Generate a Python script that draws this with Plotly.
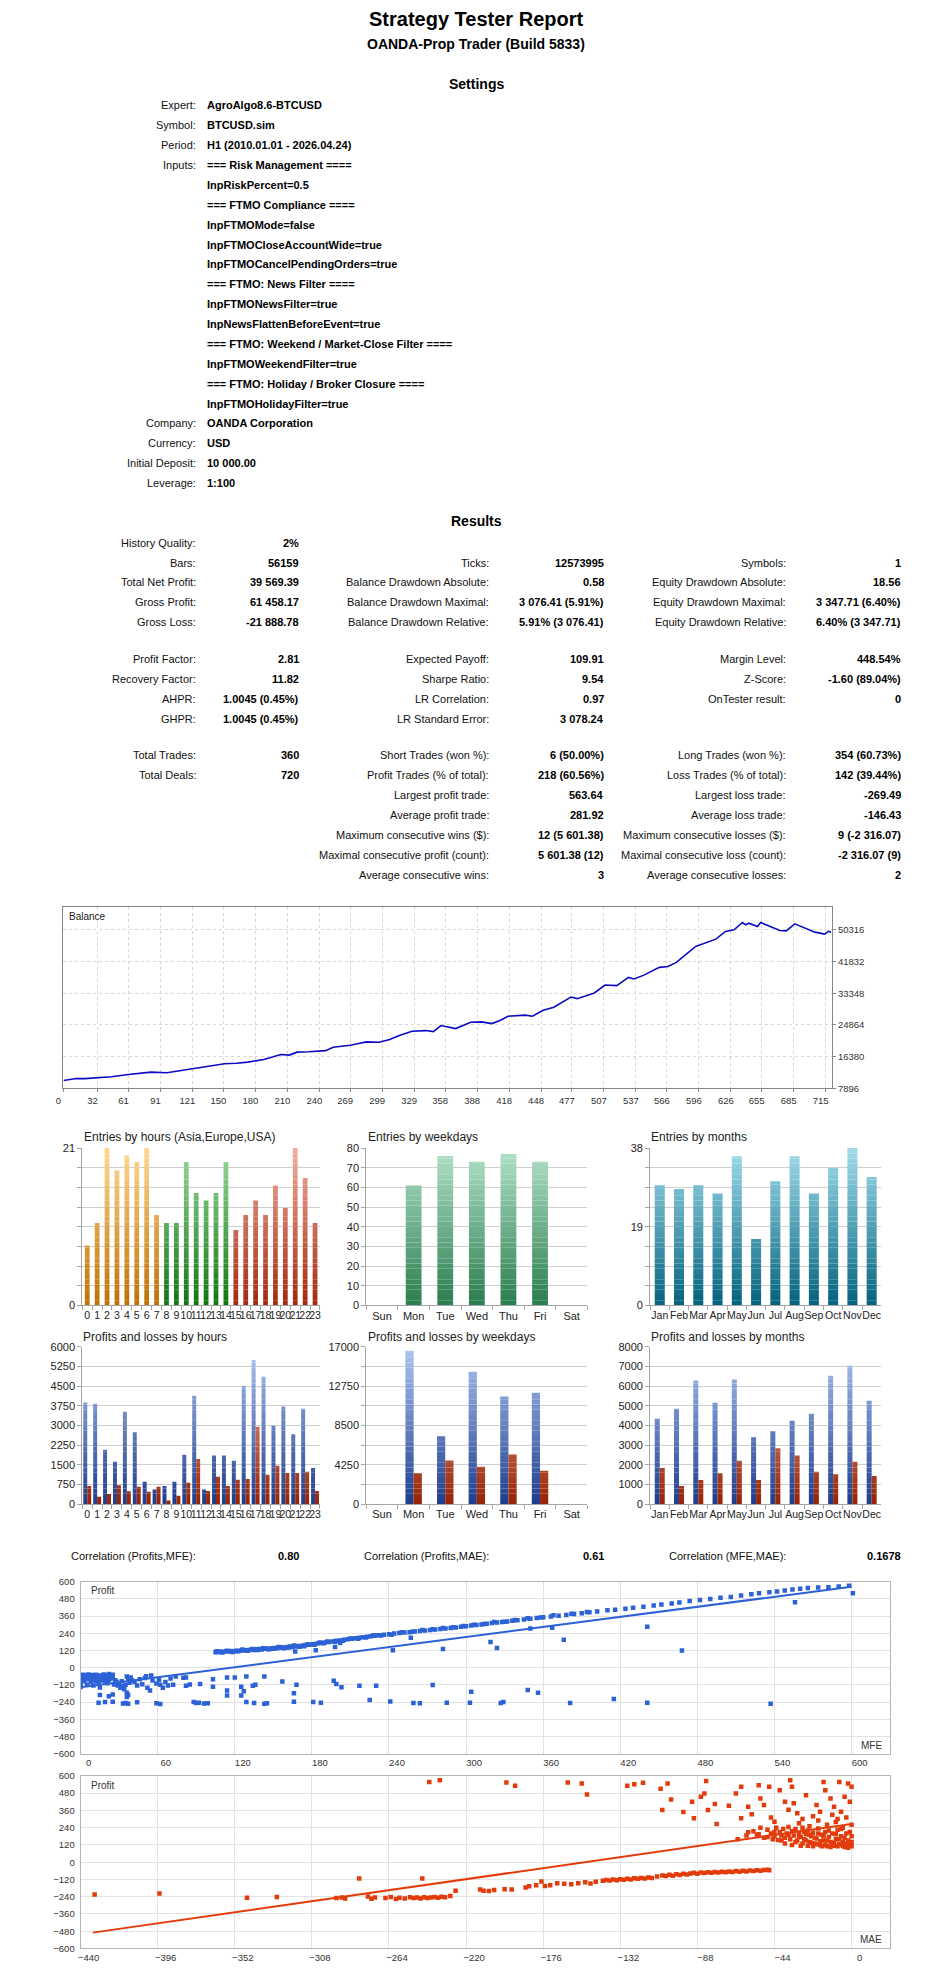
import plotly.graph_objects as go

W, H = 945, 1979
FONT = "Liberation Sans"

# ------------------------------------------------------------------ data
report_title = "Strategy Tester Report"
report_subtitle = "OANDA-Prop Trader (Build 5833)"

settings_labels = ["Expert:", "Symbol:", "Period:", "Inputs:", "", "", "", "", "", "", "",
                   "", "", "", "", "", "Company:", "Currency:", "Initial Deposit:", "Leverage:"]
settings_values = ["AgroAlgo8.6-BTCUSD", "BTCUSD.sim", "H1 (2010.01.01 - 2026.04.24)",
                   "=== Risk Management ====", "InpRiskPercent=0.5", "=== FTMO Compliance ====",
                   "InpFTMOMode=false", "InpFTMOCloseAccountWide=true", "InpFTMOCancelPendingOrders=true",
                   "=== FTMO: News Filter ====", "InpFTMONewsFilter=true", "InpNewsFlattenBeforeEvent=true",
                   "=== FTMO: Weekend / Market-Close Filter ====", "InpFTMOWeekendFilter=true",
                   "=== FTMO: Holiday / Broker Closure ====", "InpFTMOHolidayFilter=true",
                   "OANDA Corporation", "USD", "10 000.00", "1:100"]

res_col1_labels = ["History Quality:", "Bars:", "Total Net Profit:", "Gross Profit:", "Gross Loss:",
                   "Profit Factor:", "Recovery Factor:", "AHPR:", "GHPR:", "Total Trades:", "Total Deals:",
                   "", "", "", "", ""]
res_col1_values = ["2%", "56159", "39 569.39", "61 458.17", "-21 888.78", "2.81", "11.82",
                   "1.0045 (0.45%)", "1.0045 (0.45%)", "360", "720", "", "", "", "", ""]
res_col2_labels = ["", "Ticks:", "Balance Drawdown Absolute:", "Balance Drawdown Maximal:",
                   "Balance Drawdown Relative:", "Expected Payoff:", "Sharpe Ratio:", "LR Correlation:",
                   "LR Standard Error:", "Short Trades (won %):", "Profit Trades (% of total):",
                   "Largest profit trade:", "Average profit trade:", "Maximum consecutive wins ($):",
                   "Maximal consecutive profit (count):", "Average consecutive wins:"]
res_col2_values = ["", "12573995", "0.58", "3 076.41 (5.91%)", "5.91% (3 076.41)", "109.91", "9.54",
                   "0.97", "3 078.24", "6 (50.00%)", "218 (60.56%)", "563.64", "281.92",
                   "12 (5 601.38)", "5 601.38 (12)", "3"]
res_col3_labels = ["", "Symbols:", "Equity Drawdown Absolute:", "Equity Drawdown Maximal:",
                   "Equity Drawdown Relative:", "Margin Level:", "Z-Score:", "OnTester result:", "",
                   "Long Trades (won %):", "Loss Trades (% of total):", "Largest loss trade:",
                   "Average loss trade:", "Maximum consecutive losses ($):",
                   "Maximal consecutive loss (count):", "Average consecutive losses:"]
res_col3_values = ["", "1", "18.56", "3 347.71 (6.40%)", "6.40% (3 347.71)", "448.54%", "-1.60 (89.04%)",
                   "0", "", "354 (60.73%)", "142 (39.44%)", "-269.49", "-146.43", "9 (-2 316.07)",
                   "-2 316.07 (9)", "2"]

corr_labels = ["Correlation (Profits,MFE):", "Correlation (Profits,MAE):", "Correlation (MFE,MAE):"]
corr_values = ["0.80", "0.61", "0.1678"]

# balance curve (deal number, balance)
balance_x = [0, 12, 20, 32, 45, 61, 72, 82, 97, 105, 114, 129, 140, 151, 162, 173, 188, 204, 212,
             219, 230, 238, 246, 253, 262, 269, 277, 284, 296, 306, 315, 327, 340, 347, 354, 361,
             368, 382, 392, 402, 410, 417, 433, 440, 450, 460, 476, 482, 498, 508, 519, 530, 535,
             544, 559, 567, 575, 593, 601, 612, 621, 629, 637, 640, 643, 651, 654, 672, 678, 686,
             705, 714, 718, 720]
balance_y = [10000, 10560, 10500, 10740, 11000, 11630, 11900, 12250, 12070, 12400, 12960, 13400,
             13900, 14470, 14600, 14920, 15630, 16960, 16800, 17590, 17700, 17940, 18000, 18920,
             19200, 19450, 19900, 20340, 20250, 20960, 22030, 23190, 23360, 23100, 24700, 24300,
             23900, 25590, 25680, 25230, 26100, 27190, 27500, 27200, 28790, 29590, 32340, 31900,
             33410, 35550, 35370, 37590, 37150, 38120, 40260, 40500, 41590, 45860, 46750, 47810,
             49860, 50300, 52260, 51640, 52080, 51190, 52260, 50120, 50030, 51900, 49680, 49150,
             49950, 49569]
balance_xticks = [0, 32, 61, 91, 121, 150, 180, 210, 240, 269, 299, 329, 358, 388, 418, 448, 477,
                  507, 537, 566, 596, 626, 655, 685, 715]
balance_yticks = [7896, 16380, 24864, 33348, 41832, 50316]

hours = ["0", "1", "2", "3", "4", "5", "6", "7", "8", "9", "10", "11", "12", "13", "14", "15",
         "16", "17", "18", "19", "20", "21", "22", "23"]
weekdays = ["Sun", "Mon", "Tue", "Wed", "Thu", "Fri", "Sat"]
months = ["Jan", "Feb", "Mar", "Apr", "May", "Jun", "Jul", "Aug", "Sep", "Oct", "Nov", "Dec"]

entries_hours = [8, 11, 21, 18, 20, 19, 21, 12, 11, 11, 19, 15, 14, 15, 19, 10, 12, 14, 12, 16, 13, 21, 17, 11]
entries_weekdays = [0, 61, 76, 73, 77, 73, 0]
entries_months = [29, 28, 29, 27, 36, 16, 30, 36, 27, 33, 38, 31]

pl_hours_profit = [3878, 3802, 2046, 1604, 3524, 2741, 834, 556, 695, 846, 1882, 4131, 556, 1857,
                   1857, 1629, 4509, 5495, 4825, 2994, 3726, 2665, 3625, 1377]
pl_hours_loss = [695, 278, 392, 720, 493, 644, 455, 657, 139, 316, 808, 1718, 505, 1023, 695, 935,
                 960, 2956, 1124, 1453, 1187, 1187, 1225, 505]
pl_weekdays_profit = [0, 16463, 7337, 14208, 11632, 11989, 0]
pl_weekdays_loss = [0, 3328, 4724, 3973, 5368, 3579, 0]
pl_months_profit = [4345, 4817, 6282, 5120, 6333, 3402, 3705, 4244, 4564, 6535, 7023, 5255]
pl_months_loss = [1836, 926, 1229, 1566, 2173, 1229, 2846, 2476, 1617, 1516, 2139, 1432]

# MFE scatter (MFE, profit)
mfe_win = [(105,108),(107,110),(109,112),(111,110),(113,114),(115,112),(117,116),(119,113),(121,118),(123,117),
           (125,120),(127,122),(129,119),(131,124),(133,126),(135,123),(137,128),(139,130),(141,127),(143,132),
           (145,134),(147,131),(149,136),(151,138),(153,135),(155,140),(157,142),(159,139),(161,144),(163,147),
           (165,144),(167,150),(169,152),(171,149),(173,155),(175,158),(178,160),(181,164),(184,168),(187,172),
           (190,176),(193,179),(196,183),(199,187),(202,190),(205,194),(208,198),(211,201),(214,205),(217,208),
           (220,212),(223,216),(226,219),(229,222),(232,226),(236,229),(240,233),(244,238),(248,242),
           (252,245),(256,248),(260,252),(264,256),(268,259),(272,263),(276,266),(280,270),(284,274),(288,277),
           (292,281),(296,285),(300,289),(304,294),(308,298),(312,302),(316,306),(320,311),(324,315),(328,318),
           (332,323),(336,327),(340,331),(345,336),(350,341),(355,346),(360,351),(366,357),(372,362),(378,368),
           (384,374),(390,380),(396,386),
           (402,392),(410,400),(416,404),(424,412),(430,418),(438,425),(446,434),(452,440),(460,448),(466,454),
           (474,466),(482,472),(490,480),(498,488),(506,494),(514,504),(522,512),(528,520),(536,526),(542,532),
           (548,538),(554,545),(560,550),(566,556),(574,560),(582,562),(590,566),(598,572),
           (106,114),(110,106),(114,118),(118,110),(122,114),(126,126),(130,118),(134,130),(138,124),(142,136),
           (146,128),(150,132),(154,144),(158,136),(162,140),(166,154),(170,146),(174,150),(177,164),(182,160),
           (186,176),(189,170),(192,182),(198,180),(204,188),(210,204),(216,202),(222,210),(228,226),(234,224),
           (242,230),(250,248),(258,250),(266,262),(274,268),(282,276),(290,282),(298,290),(306,300),(314,304),
           (322,318),(330,320),(338,332),(348,344),(358,350),(368,366),(382,376),(394,388),
           (167,112),(183,121),(198,145),(202,172),(243,121),(257,209),(282,131),(319,179),(324,138),(350,274),
           (367,279),(376,195),(441,286),(468,119),(556,457),(601,519)]
mfe_loss = [(0,-110),(0,-135),(1,-60),(1,-85),(2,-50),(3,-72),(3,-95),(4,-55),(5,-65),(5,-120),(6,-48),
            (6,-80),(7,-58),(8,-70),(8,-100),(9,-52),(9,-88),(10,-62),(10,-125),(11,-75),(12,-50),(12,-95),
            (13,-66),(14,-80),(14,-110),(15,-55),(15,-138),(16,-70),(16,-90),(17,-60),(18,-48),(18,-82),
            (19,-95),(20,-55),(20,-70),(21,-62),(21,-108),(22,-45),(22,-85),(23,-58),(24,-75),(25,-50),
            (25,-65),(26,-118),(27,-88),(28,-100),(29,-125),(30,-115),
            (31,-140),(32,-95),(33,-130),(34,-150),(35,-120),(36,-62),(36,-175),(37,-75),(38,-105),(39,-68),
            (40,-90),(42,-100),(44,-125),(46,-80),(48,-115),(50,-72),(51,-60),(52,-140),(54,-160),(55,-55),
            (56,-90),(59,-110),(61,-85),(62,-120),(64,-140),(66,-100),(68,-125),(70,-75),(72,-120),(74,-62),
            (15,-190),(22,-200),(25,-188),(36,-205),(37,-190),
            (14,-245),(19,-240),(25,-238),(33,-250),(35,-246),(37,-252),(44,-242),(59,-248),(62,-254),
            (88,-240),(90,-246),(92,-244),(96,-250),(99,-248),(129,-240),(135,-246),(143,-252),(145,-248),
            (166,-238),(181,-240),(187,-244),(225,-226),(241,-236),(259,-246),(264,-248),(285,-244),
            (303,-244),(327,-246),(329,-240),(381,-246),(441,-244),(537,-252),(415,-218),
            (80,-70),(82,-68),(82,-126),(85,-118),(93,-114),(103,-80),(103,-133),(114,-68),(114,-160),
            (114,-195),(120,-68),(125,-133),(125,-195),(127,-165),(129,-61),(134,-126),(136,-119),(143,-61),
            (157,-96),(166,-179),(168,-119),(197,-91),(199,-114),(203,-137),(217,-126),(230,-126),(274,-121),
            (304,-168),(348,-156),(356,-175)]
mfe_fit = [(0, -137), (600, 565)]

# MAE scatter (MAE, profit)
mae_win = [(-241,558),(-235,570),(-197,554),(-192,531),(-162,554),(-154,547),(-151,471),(-128,531),
           (-124,542),(-119,552),(-109,510),(-105,547),(-103,436),(-108,363),(-96,349),(-91,420),(-90,305),
           (-86,455),(-84,478),(-83,565),(-82,363),(-78,404),(-77,266),(-70,393),(-66,478),(-63,524),
           (-63,305),(-59,386),(-59,208),(-57,333),(-53,535),(-52,443),(-50,397),(-47,524),(-46,310),(-44,282),
           (-41,500),(-38,420),(-36,365),(-35,570),(-34,524),(-33,409),(-31,340),(-30,270),(-28,300),(-26,466),
           (-24,250),(-22,320),(-20,397),(-19,290),(-18,350),(-16,558),(-15,501),(-14,260),(-12,443),(-11,330),
           (-10,386),(-9,280),(-8,300),(-7,558),(-6,350),(-5,240),(-4,455),(-3,310),(-2,547),(-1,420),(0,524),
           (0,260),
           (-56,215),(-54,190),(-52,240),(-50,170),(-48,225),(-46,200),(-45,160),(-44,180),(-43,240),(-42,155),
           (-41,210),(-40,185),(-39,230),(-38,170),(-37,200),(-36,245),(-35,160),(-34,215),(-33,185),(-32,230),
           (-31,150),(-30,205),(-29,175),(-28,240),(-27,160),(-26,195),(-25,220),(-24,140),(-23,180),(-22,205),
           (-21,130),(-20,165),(-19,235),(-18,120),(-17,190),(-16,150),(-15,210),(-14,110),(-13,175),(-12,140),
           (-11,200),(-10,115),(-9,160),(-8,225),(-7,125),(-6,180),(-5,140),(-4,105),(-3,200),(-2,150),
           (-1,120),(0,180),(0,110),(0,140),(-1,210),(-2,100),(-3,130),(-4,170),(-5,115),(-6,230),(-7,160),
           (-8,110),(-9,195),(-10,135),(-11,125),(-12,105),(-13,220),(-14,150),(-15,120),(-16,180),(-17,110),
           (-18,145),(-19,200),(-20,125),(-21,170),(-22,110),(-23,135),(-24,190),(-25,115),(-26,150),
           (-27,210),(-28,130),(-29,115),(-30,180),(-32,140),(-34,120),(-36,190),(-38,130),(-40,150),
           (-44,210),(-48,175),(-53,195),(-60,185),(-65,160)]
mae_loss = [(-432,-225),(-395,-218),(-345,-248),(-328,-243),(-294,-250),(-291,-246),(-289,-252),(-281,-114),
            (-276,-238),(-274,-254),(-272,-246),(-266,-250),(-263,-242),(-260,-256),(-258,-248),(-255,-252),
            (-252,-244),(-250,-250),(-248,-246),(-246,-252),(-245,-114),(-244,-244),(-242,-250),(-240,-246),
            (-238,-242),(-236,-248),(-234,-240),(-232,-244),(-229,-236),(-226,-198),(-212,-190),(-210,-198),
            (-207,-200),(-204,-194),(-198,-188),(-194,-190),(-186,-176),(-184,-168),(-180,-160),(-177,-134),
            (-175,-166),(-172,-160),(-168,-146),(-164,-150),(-160,-154),(-156,-146),(-152,-140),(-149,-148),
            (-146,-136),(-142,-130),(-140,-124),(-138,-128),(-136,-120),(-134,-126),(-132,-118),(-130,-122),
            (-128,-116),(-126,-120),(-124,-112),(-122,-116),(-120,-110),(-118,-114),(-116,-106),(-114,-110),
            (-111,-100),(-108,-92),(-106,-96),(-104,-88),(-102,-94),(-100,-84),(-98,-90),(-96,-80),(-94,-86),
            (-92,-78),(-90,-74),(-88,-80),(-86,-72),(-84,-76),(-82,-70),(-80,-74),(-78,-68),(-76,-72),
            (-74,-66),(-72,-70),(-70,-64),(-68,-68),(-66,-62),(-64,-66),(-62,-60),(-60,-64),(-58,-58),
            (-56,-62),(-54,-56),(-52,-60),(-50,-54),(-48,-52),(-47,-56)]
mae_fit = [(-433, -490), (0, 266)]

mfe_ticks = [0, 60, 120, 180, 240, 300, 360, 420, 480, 540, 600]
mae_ticks = [-440, -396, -352, -308, -264, -220, -176, -132, -88, -44, 0]
profit_ticks = [-600, -480, -360, -240, -120, 0, 120, 240, 360, 480, 600]

# ------------------------------------------------------------------ helpers
def px(x):
    return x / W


def py(y):
    return 1 - y / H


def rgb(h):
    return tuple(int(h[i:i + 2], 16) for i in (1, 3, 5))


def mix(c1, c2, t):
    a, b = rgb(c1), rgb(c2)
    return "rgb(%d,%d,%d)" % tuple(round(a[i] + (b[i] - a[i]) * t) for i in range(3))


fig = go.Figure()
annotations = []


def text(x, y, s, anchor="left", size=11, bold=False, color="#111111", family=FONT):
    annotations.append(dict(
        x=px(x), y=py(y), xref="paper", yref="paper", text=("<b>%s</b>" % s) if bold else s,
        xanchor=anchor, yanchor="middle", showarrow=False,
        font=dict(family=family, size=size, color=color)))


def grad_bars(ax, cats, vals, bottoms, tops, ymax, width, offset, n=30):
    h = ymax / n
    for k in range(n):
        base = k * h
        seg = [min(max(v - base, 0), h) for v in vals]
        if not any(s > 0 for s in seg):
            continue
        cols = [mix(b, t, (k + 0.5) / n) for b, t in zip(bottoms, tops)]
        fig.add_trace(go.Bar(
            x=cats, y=seg, base=[base] * len(cats), width=width, offset=offset,
            marker=dict(color=cols, line=dict(width=0)),
            xaxis="x" + ax, yaxis="y" + ax, showlegend=False, hoverinfo="skip"))


# ------------------------------------------------------------------ header text
text(472.5, 13, report_title, anchor="center", size=20, bold=True, color="#000")
text(472.5, 38, report_subtitle, anchor="center", size=14, bold=True, color="#000")
text(472.5, 78, "Settings", anchor="center", size=14, bold=True, color="#000")
for i, (lab, val) in enumerate(zip(settings_labels, settings_values)):
    yy = 100 + 20 * i
    if lab:
        text(192, yy, lab, anchor="right")
    text(199, yy, val, bold=True, color="#000")

text(472.5, 518, "Results", anchor="center", size=14, bold=True, color="#000")
row_y = [540, 560, 580, 600, 620, 657, 677, 697, 717, 754, 774, 794, 814, 834, 854, 874]
cols = [(res_col1_labels, res_col1_values, 192, 296),
        (res_col2_labels, res_col2_values, 488, 604),
        (res_col3_labels, res_col3_values, 788, 904)]
for labs, vals, lx, vx in cols:
    for yy, lab, val in zip(row_y, labs, vals):
        if lab:
            text(lx, yy, lab, anchor="right")
        if val:
            text(vx, yy, val, anchor="right", bold=True, color="#000")

for lab, val, lx, vx in zip(corr_labels, corr_values, [192, 488, 788], [296, 604, 904]):
    text(lx, 1559, lab, anchor="right")
    text(vx, 1559, val, anchor="right", bold=True, color="#000")

# ------------------------------------------------------------------ balance chart
fig.add_trace(go.Scatter(x=balance_x, y=balance_y, mode="lines",
                         line=dict(color="#0B0BC4", width=1.6), xaxis="x", yaxis="y",
                         showlegend=False, hoverinfo="skip"))
text(60, 916, "Balance", size=10, color="#222", family=FONT)

# ------------------------------------------------------------------ bar charts
ORANGE = ("#BD7000", "#FFD890")
GREEN = ("#107510", "#9ADA9A")
RED = ("#A2280C", "#F4AE9E")
hour_groups = [ORANGE] * 8 + [GREEN] * 7 + [RED] * 9
grad_bars("2", hours, entries_hours, [g[0] for g in hour_groups], [g[1] for g in hour_groups],
          21, 0.48, -0.24)
grad_bars("3", weekdays, entries_weekdays, ["#2A7D4E"] * 7, ["#B2E2C8"] * 7, 80, 0.5, -0.25)
grad_bars("4", months, entries_months, ["#03627D"] * 12, ["#A0DCEC"] * 12, 38, 0.52, -0.26)

BLUE_B, BLUE_T = "#1E3C8C", "#ADC6F2"
LRED_B, LRED_T = "#962204", "#F6BAA6"
grad_bars("5", hours, pl_hours_profit, [BLUE_B] * 24, [BLUE_T] * 24, 6000, 0.4, -0.4)
grad_bars("5", hours, pl_hours_loss, [LRED_B] * 24, [LRED_T] * 24, 6000, 0.4, 0.0)
grad_bars("6", weekdays, pl_weekdays_profit, [BLUE_B] * 7, [BLUE_T] * 7, 17000, 0.26, -0.26)
grad_bars("6", weekdays, pl_weekdays_loss, [LRED_B] * 7, [LRED_T] * 7, 17000, 0.26, 0.0)
grad_bars("7", months, pl_months_profit, [BLUE_B] * 12, [BLUE_T] * 12, 8000, 0.26, -0.26)
grad_bars("7", months, pl_months_loss, [LRED_B] * 12, [LRED_T] * 12, 8000, 0.26, 0.0)

for title_txt, xx in [("Entries by hours (Asia,Europe,USA)", 75), ("Entries by weekdays", 361),
                      ("Entries by months", 647)]:
    text(xx, 1138, title_txt, size=12, color="#222")
for title_txt, xx in [("Profits and losses by hours", 74), ("Profits and losses by weekdays", 361),
                      ("Profits and losses by months", 647)]:
    text(xx, 1339, title_txt, size=12, color="#222")

# ------------------------------------------------------------------ scatter charts
BLUE_PT, RED_PT = "#2C62D6", "#E23C0C"
for pts, ax, col in [(mfe_win + mfe_loss, "8", BLUE_PT), (mae_win + mae_loss, "9", RED_PT)]:
    fig.add_trace(go.Scatter(x=[p[0] for p in pts], y=[p[1] for p in pts], mode="markers",
                             marker=dict(symbol="square", size=4.5, color=col, line=dict(width=0)),
                             xaxis="x" + ax, yaxis="y" + ax, showlegend=False, hoverinfo="skip"))
for fit, ax, col in [(mfe_fit, "8", BLUE_PT), (mae_fit, "9", RED_PT)]:
    fig.add_trace(go.Scatter(x=[p[0] for p in fit], y=[p[1] for p in fit], mode="lines",
                             line=dict(color=col, width=2), xaxis="x" + ax, yaxis="y" + ax,
                             showlegend=False, hoverinfo="skip"))
text(82, 1594, "Profit", size=10, color="#333")
text(82, 1790, "Profit", size=10, color="#333")
text(884, 1750, "MFE", anchor="right", size=10, color="#333")
text(884, 1945, "MAE", anchor="right", size=10, color="#333")

# ------------------------------------------------------------------ axes
GRID = "#CFCFCF"
AXL = "#A6A6A6"
tickfont = dict(family=FONT, size=11, color="#222")
catfont = dict(family=FONT, size=10.5, color="#222")
smallfont = dict(family=FONT, size=9.5, color="#333")


def dom_x(a, b):
    return [px(a), px(b)]


def dom_y(top, bottom):
    return [py(bottom), py(top)]


layout_axes = {}
layout_axes["xaxis"] = dict(domain=dom_x(56, 832), anchor="y", range=[0, 721], tickvals=balance_xticks,
                            showgrid=True, gridcolor="#D6D6D6", griddash="dot", showline=True, mirror=True,
                            linecolor="#858585", ticks="outside", ticklen=3, tickcolor="#858585",
                            tickfont=smallfont, zeroline=False, ticklabelshift=-5, fixedrange=True,
                            tickformat="d")
layout_axes["yaxis"] = dict(domain=dom_y(906, 1089), anchor="x", side="right", range=[7896, 56540],
                            tickvals=balance_yticks, showgrid=True, gridcolor="#D6D6D6", griddash="dot",
                            showline=True, mirror=True, linecolor="#858585", ticks="outside", ticklen=3,
                            tickcolor="#858585", tickfont=smallfont, zeroline=False, fixedrange=True,
                            tickformat="d")

bar_specs = [
    ("2", hours, (75, 315), (1149, 1307.3), 21, [0, 21]),
    ("3", weekdays, (361.7, 585), (1149, 1307.3), 80, [0, 10, 20, 30, 40, 50, 60, 70, 80]),
    ("4", months, (648.3, 881.7), (1149, 1307.3), 38, [0, 19, 38]),
    ("5", hours, (75, 315), (1349, 1507.3), 6000, [0, 750, 1500, 2250, 3000, 3750, 4500, 5250, 6000]),
    ("6", weekdays, (361.7, 585), (1349, 1507.3), 17000, [0, 4250, 8500, 12750, 17000]),
    ("7", months, (648.3, 881.7), (1349, 1507.3), 8000, [0, 1000, 2000, 3000, 4000, 5000, 6000, 7000, 8000]),
]
for ax, cats, (x0, x1), (y0, y1), ymax, yt in bar_specs:
    layout_axes["xaxis" + ax] = dict(domain=dom_x(x0, x1), anchor="y" + ax, type="category",
                                     categoryorder="array", categoryarray=cats, range=[-0.5, len(cats) - 0.5],
                                     tickmode="linear", tick0=0, dtick=1,
                                     showline=True, linecolor=AXL, ticks="outside", tickson="boundaries",
                                     ticklen=4, tickcolor=AXL,
                                     tickfont=tickfont if cats is weekdays else catfont,
                                     tickangle=0, showgrid=False, fixedrange=True)
    layout_axes["yaxis" + ax] = dict(domain=dom_y(y0, y1), anchor="x" + ax, range=[0, ymax], tickvals=yt,
                                     tickformat="d",
                                     showgrid=True, gridcolor=GRID, showline=True, linecolor=AXL,
                                     ticks="outside", ticklen=4, tickcolor=AXL, tickfont=tickfont,
                                     zeroline=False, fixedrange=True,
                                     minor=dict(tickvals=[ymax * i / 8 for i in range(9)], showgrid=True,
                                                gridcolor=GRID, ticks="outside", ticklen=4, tickcolor=AXL))

scatter_specs = [("8", (1585.3, 1758.3), [0, 630], mfe_ticks), ("9", (1780.7, 1954.3), [-440, 22], mae_ticks)]
for ax, (y0, y1), xr, xt in scatter_specs:
    layout_axes["xaxis" + ax] = dict(domain=dom_x(73.3, 890.6), anchor="y" + ax, range=xr, tickvals=xt,
                                     showgrid=True, gridcolor="#E3E3E3", showline=True, mirror=True,
                                     linecolor="#B4B4B4", ticks="", tickfont=smallfont, zeroline=False,
                                     ticklabelshift=8, fixedrange=True)
    layout_axes["yaxis" + ax] = dict(domain=dom_y(y0, y1), anchor="x" + ax, range=[-600, 600],
                                     tickvals=profit_ticks, showgrid=True, gridcolor="#E3E3E3", showline=True,
                                     mirror=True, linecolor="#B4B4B4", ticks="", tickfont=smallfont,
                                     zeroline=False, ticklabelstandoff=3, fixedrange=True)

fig.update_layout(width=W, height=H, margin=dict(l=0, r=0, t=0, b=0), paper_bgcolor="white",
                  plot_bgcolor="white", barmode="overlay", showlegend=False, annotations=annotations,
                  font=dict(family=FONT), **layout_axes)

fig.write_html("out.html", config={"displayModeBar": False},
               post_script="document.body.style.margin='0px';")
